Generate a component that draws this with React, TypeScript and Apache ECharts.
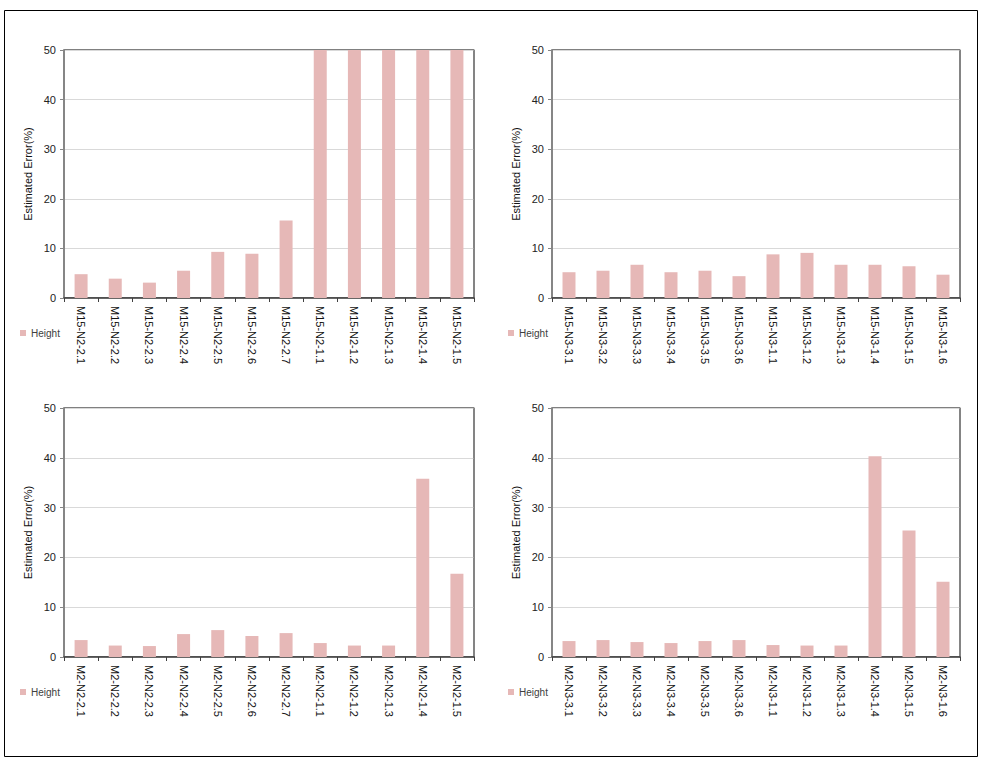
import React, { useEffect, useRef } from "react";
import * as echarts from "echarts";

const categoriesTL = ["M15-N2-2.1", "M15-N2-2.2", "M15-N2-2.3", "M15-N2-2.4", "M15-N2-2.5", "M15-N2-2.6", "M15-N2-2.7", "M15-N2-1.1", "M15-N2-1.2", "M15-N2-1.3", "M15-N2-1.4", "M15-N2-1.5"];
const valuesTL = [4.8, 3.9, 3.1, 5.5, 9.3, 8.9, 15.6, 50, 50, 50, 50, 50];

const categoriesTR = ["M15-N3-3.1", "M15-N3-3.2", "M15-N3-3.3", "M15-N3-3.4", "M15-N3-3.5", "M15-N3-3.6", "M15-N3-1.1", "M15-N3-1.2", "M15-N3-1.3", "M15-N3-1.4", "M15-N3-1.5", "M15-N3-1.6"];
const valuesTR = [5.2, 5.5, 6.7, 5.2, 5.5, 4.4, 8.8, 9.1, 6.7, 6.7, 6.4, 4.7];

const categoriesBL = ["M2-N2-2.1", "M2-N2-2.2", "M2-N2-2.3", "M2-N2-2.4", "M2-N2-2.5", "M2-N2-2.6", "M2-N2-2.7", "M2-N2-1.1", "M2-N2-1.2", "M2-N2-1.3", "M2-N2-1.4", "M2-N2-1.5"];
const valuesBL = [3.4, 2.3, 2.2, 4.6, 5.4, 4.2, 4.8, 2.8, 2.3, 2.3, 35.8, 16.7];

const categoriesBR = ["M2-N3-3.1", "M2-N3-3.2", "M2-N3-3.3", "M2-N3-3.4", "M2-N3-3.5", "M2-N3-3.6", "M2-N3-1.1", "M2-N3-1.2", "M2-N3-1.3", "M2-N3-1.4", "M2-N3-1.5", "M2-N3-1.6"];
const valuesBR = [3.2, 3.4, 3.0, 2.8, 3.2, 3.4, 2.4, 2.3, 2.3, 40.3, 25.4, 15.1];

const yTicks = [0, 10, 20, 30, 40, 50];
const seriesName = "Height";
const yAxisName = "Estimated Error(%)";

const FONT = "'Liberation Sans', Arial, sans-serif";
const BAR_COLOR = "#e6b8b7";

const panels = [
  { cats: categoriesTL, vals: valuesTL, grid: { left: 64, top: 50, width: 410, height: 248 }, legend: { left: 15, top: 323 } },
  { cats: categoriesTR, vals: valuesTR, grid: { left: 552, top: 50, width: 408, height: 248 }, legend: { left: 503, top: 323 } },
  { cats: categoriesBL, vals: valuesBL, grid: { left: 64, top: 408, width: 410, height: 249 }, legend: { left: 15, top: 682 } },
  { cats: categoriesBR, vals: valuesBR, grid: { left: 552, top: 408, width: 408, height: 249 }, legend: { left: 503, top: 682 } },
];

export default function App() {
  const ref = useRef<HTMLDivElement>(null);
  useEffect(() => {
    if (!ref.current) return;
    const chart = echarts.init(ref.current, undefined, { renderer: "svg" });
    const grids: any[] = [];
    const xAxes: any[] = [];
    const yAxes: any[] = [];
    const series: any[] = [];
    const legends: any[] = [];
    panels.forEach((p, i) => {
      grids.push({ ...p.grid, show: true, borderColor: "#000", borderWidth: 1, backgroundColor: "#fff" });
      xAxes.push({
        type: "category",
        gridIndex: i,
        data: p.cats,
        axisLine: { show: true, lineStyle: { color: "#404040", width: 1.5 } },
        axisTick: { show: true, length: 4, lineStyle: { color: "#404040" } },
        axisLabel: { rotate: -90, margin: 8, fontSize: 11, color: "#111", fontFamily: FONT, interval: 0 },
      });
      yAxes.push({
        type: "value",
        gridIndex: i,
        min: 0,
        max: yTicks[yTicks.length - 1],
        interval: yTicks[1] - yTicks[0],
        name: yAxisName,
        nameLocation: "middle",
        nameGap: 31,
        nameTextStyle: { fontSize: 11, color: "#111", fontFamily: FONT },
        axisLine: { show: true, lineStyle: { color: "#868686", width: 2 } },
        axisTick: { show: true, length: 4, lineStyle: { color: "#868686" } },
        axisLabel: { fontSize: 11, color: "#222", fontFamily: FONT, margin: 8 },
        splitLine: { show: true, lineStyle: { color: "#d9d9d9", width: 1 } },
      });
      yAxes.push({
        type: "value",
        gridIndex: i,
        position: "right",
        min: 0,
        max: yTicks[yTicks.length - 1],
        interval: yTicks[1] - yTicks[0],
        axisLine: { show: true, lineStyle: { color: "#868686", width: 1.5 } },
        axisTick: { show: false },
        axisLabel: { show: false },
        splitLine: { show: false },
      });
      series.push({
        type: "bar",
        name: seriesName,
        xAxisIndex: i,
        yAxisIndex: i * 2,
        data: p.vals,
        barWidth: 13,
        itemStyle: { color: BAR_COLOR },
      });
      legends.push({
        ...p.legend,
        data: [seriesName],
        icon: "rect",
        itemWidth: 6,
        itemHeight: 6,
        itemGap: 5,
        textStyle: { fontSize: 10, color: "#404040", fontFamily: FONT },
        selectedMode: false,
      });
    });
    chart.setOption({
      animation: false,
      backgroundColor: "#fff",
      grid: grids,
      xAxis: xAxes,
      yAxis: yAxes,
      series,
      legend: legends,
      graphic: [
        {
          type: "rect",
          shape: { x: 4.5, y: 10.5, width: 973, height: 746 },
          style: { fill: "none", stroke: "#000", lineWidth: 1 },
          silent: true,
          z: 100,
        },
      ],
    });
    return () => chart.dispose();
  }, []);
  return (
    <div
      ref={ref}
      style={{ position: "absolute", left: 0, top: 0, width: 989, height: 768, background: "#fff" }}
    />
  );
}
